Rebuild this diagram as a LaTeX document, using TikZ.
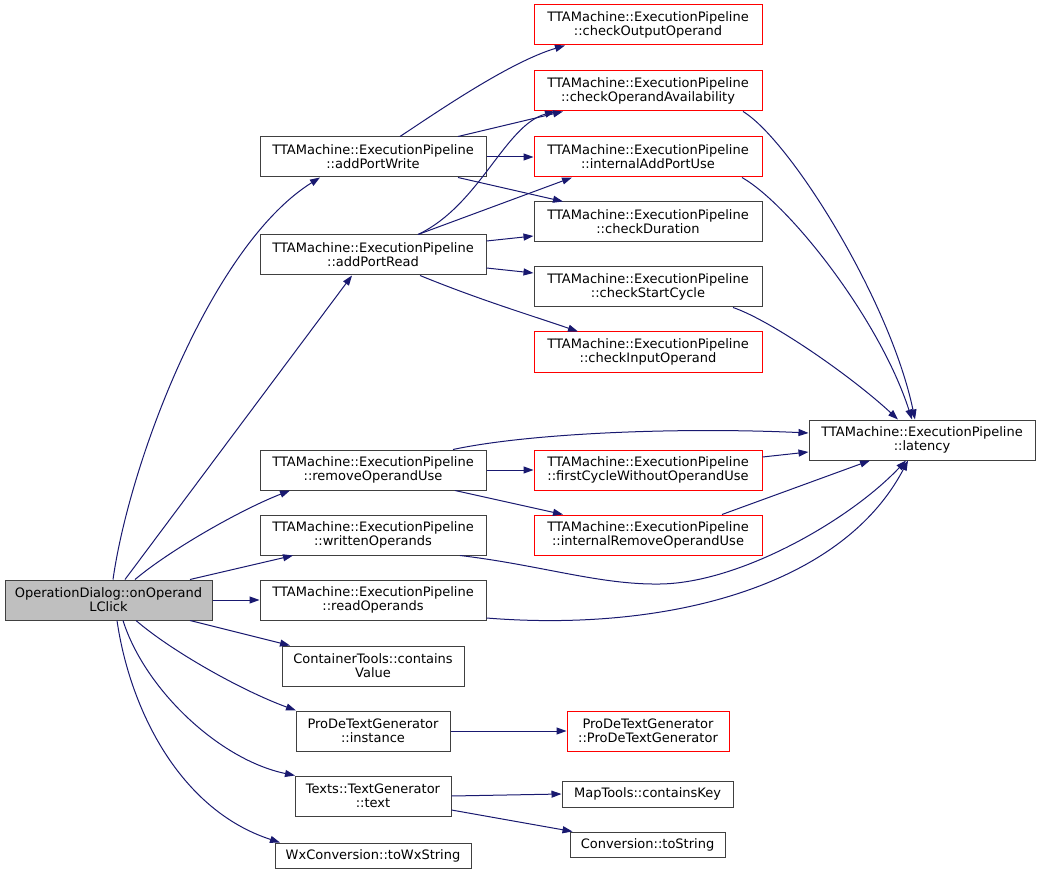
\documentclass[tikz,border=0pt]{standalone}
\usepackage{fontspec}
\setmainfont{DejaVu Sans}
\usetikzlibrary{arrows.meta,calc}
\definecolor{edgeblue}{HTML}{191970}
\definecolor{boxgray}{HTML}{404040}
\definecolor{rootfill}{HTML}{BFBFBF}
\begin{document}
\begin{tikzpicture}[x=1pt,y=-1pt,
  box/.style={draw=boxgray,line width=1pt,inner sep=0pt,align=center,
    font=\fontsize{13}{14}\selectfont,fill=white,minimum height=40pt},
  redbox/.style={box,draw=red},
  rootbox/.style={box,fill=rootfill},
  edge/.style={draw=edgeblue,line width=1pt,-{Triangle[length=10pt,width=7pt]}}
]
\fill[white] (0,0) rectangle (1041,874);
\useasboundingbox (0,0) rectangle (1041,874);

% nodes
\node[rootbox,minimum width=207pt] (root) at (108.5,600) {OperationDialog::onOperand\\LClick};
\node[box,minimum width=226pt] (apw) at (373,157) {TTAMachine::ExecutionPipeline\\::addPortWrite};
\node[box,minimum width=226pt] (apr) at (373,255) {TTAMachine::ExecutionPipeline\\::addPortRead};
\node[box,minimum width=226pt] (rou) at (373,470) {TTAMachine::ExecutionPipeline\\::removeOperandUse};
\node[box,minimum width=226pt] (wo) at (373,535) {TTAMachine::ExecutionPipeline\\::writtenOperands};
\node[box,minimum width=226pt] (ro) at (373,600) {TTAMachine::ExecutionPipeline\\::readOperands};
\node[box,minimum width=182pt] (cv) at (373,666) {ContainerTools::contains\\Value};
\node[box,minimum width=154pt] (inst) at (373,731) {ProDeTextGenerator\\::instance};
\node[box,minimum width=156pt] (txt) at (373,796) {Texts::TextGenerator\\::text};
\node[box,minimum width=196pt,minimum height=25pt] (wx) at (373,855.5) {WxConversion::toWxString};

\node[redbox,minimum width=228pt] (coo) at (648,25) {TTAMachine::ExecutionPipeline\\::checkOutputOperand};
\node[redbox,minimum width=228pt] (coa) at (648,91) {TTAMachine::ExecutionPipeline\\::checkOperandAvailability};
\node[redbox,minimum width=228pt] (iapu) at (648,157) {TTAMachine::ExecutionPipeline\\::internalAddPortUse};
\node[box,minimum width=228pt] (cd) at (648,222) {TTAMachine::ExecutionPipeline\\::checkDuration};
\node[box,minimum width=228pt] (csc) at (648,287) {TTAMachine::ExecutionPipeline\\::checkStartCycle};
\node[redbox,minimum width=228pt] (cio) at (648,352) {TTAMachine::ExecutionPipeline\\::checkInputOperand};
\node[redbox,minimum width=228pt] (fcw) at (648,470) {TTAMachine::ExecutionPipeline\\::firstCycleWithoutOperandUse};
\node[redbox,minimum width=228pt] (irou) at (648,535) {TTAMachine::ExecutionPipeline\\::internalRemoveOperandUse};
\node[redbox,minimum width=162pt] (pdtg) at (648,731) {ProDeTextGenerator\\::ProDeTextGenerator};
\node[box,minimum width=171pt,minimum height=26pt] (mck) at (647.5,794) {MapTools::containsKey};
\node[box,minimum width=155pt,minimum height=25pt] (cts) at (647.5,844.5) {Conversion::toString};

\node[box,minimum width=226pt] (lat) at (922,440) {TTAMachine::ExecutionPipeline\\::latency};

% edges from root
\draw[edge] ($(root.north)+(4.5,0)$) .. controls (130,460) and (212,245) .. ($(apw.south)+(-53,0)$);
\draw[edge] ($(root.north)+(16.5,0)$) -- ($(apr.south)+(-21,0)$);
\draw[edge] ($(root.north)+(26.5,0)$) .. controls (170,550) and (240,510) .. ($(rou.south)+(-83,0)$);
\draw[edge] ($(root.north)+(81.5,0)$) -- ($(wo.south)+(-80,0)$);
\draw[edge] (root.east) -- (ro.west);
\draw[edge] ($(root.south)+(81.5,0)$) -- ($(cv.north)+(-83,0)$);
\draw[edge] ($(root.south)+(27.5,0)$) .. controls (170,650) and (240,690) .. ($(inst.north)+(-77,0)$);
\draw[edge] ($(root.south)+(14.5,0)$) .. controls (145,690) and (220,760) .. ($(txt.north)+(-78,0)$);
\draw[edge] ($(root.south)+(8.5,0)$) .. controls (130,710) and (180,810) .. ($(wx.north)+(-93,0)$);

% edges from addPortWrite
\draw[edge] ($(apw.north)+(27,0)$) .. controls (440,110) and (510,62) .. ($(coo.south)+(-83,0)$);
\draw[edge] ($(apw.north)+(85,0)$) -- ($(coa.south)+(-85,0)$);
\draw[edge] (apw.east) -- (iapu.west);
\draw[edge] ($(apw.south)+(85,0)$) -- ($(cd.north)+(-85,0)$);

% edges from addPortRead
\draw[edge] ($(apr.north)+(45,0)$) .. controls (480,205) and (505,125) .. ($(coa.south)+(-93,0)$);
\draw[edge] ($(apr.north)+(45,0)$) -- ($(iapu.south)+(-76,0)$);
\draw[edge] ($(apr.east)+(0,-14)$) -- ($(cd.west)+(0,14)$);
\draw[edge] ($(apr.east)+(0,13)$) -- ($(csc.west)+(0,-14)$);
\draw[edge] ($(apr.south)+(47,0)$) .. controls (480,300) and (530,315) .. ($(cio.north)+(-70,0)$);

% edges from removeOperandUse
\draw[edge] ($(rou.north)+(80,0)$) .. controls (530,433) and (680,427) .. ($(lat.west)+(0,-7)$);
\draw[edge] (rou.east) -- (fcw.west);
\draw[edge] ($(rou.south)+(82,0)$) -- ($(irou.north)+(-85,0)$);

% long edges to latency
\draw[edge] ($(wo.south)+(87,0)$) .. controls (540,565) and (600,585) .. (660,584)
  .. controls (740,583) and (850,520) .. ($(lat.south)+(-16,0)$);
\draw[edge] ($(ro.east)+(0,18)$) .. controls (660,632) and (840,590) .. ($(lat.south)+(-14,0)$);
\draw[edge] ($(fcw.east)+(0,-13)$) -- ($(lat.west)+(0,12)$);
\draw[edge] ($(irou.north)+(74,0)$) -- ($(lat.south)+(-52,0)$);
\draw[edge] ($(coa.south)+(95,0)$) .. controls (790,140) and (890,300) .. ($(lat.north)+(-7,0)$);
\draw[edge] ($(iapu.south)+(94,0)$) .. controls (790,205) and (880,320) .. ($(lat.north)+(-10,0)$);
\draw[edge] ($(csc.south)+(85,0)$) .. controls (770,320) and (850,375) .. ($(lat.north)+(-24,0)$);

% bottom edges
\draw[edge] (inst.east) -- (pdtg.west);
\draw[edge] (txt.east) -- (mck.west);
\draw[edge] ($(txt.east)+(0,14)$) -- ($(cts.north)+(-75,0)$);
\end{tikzpicture}
\end{document}
